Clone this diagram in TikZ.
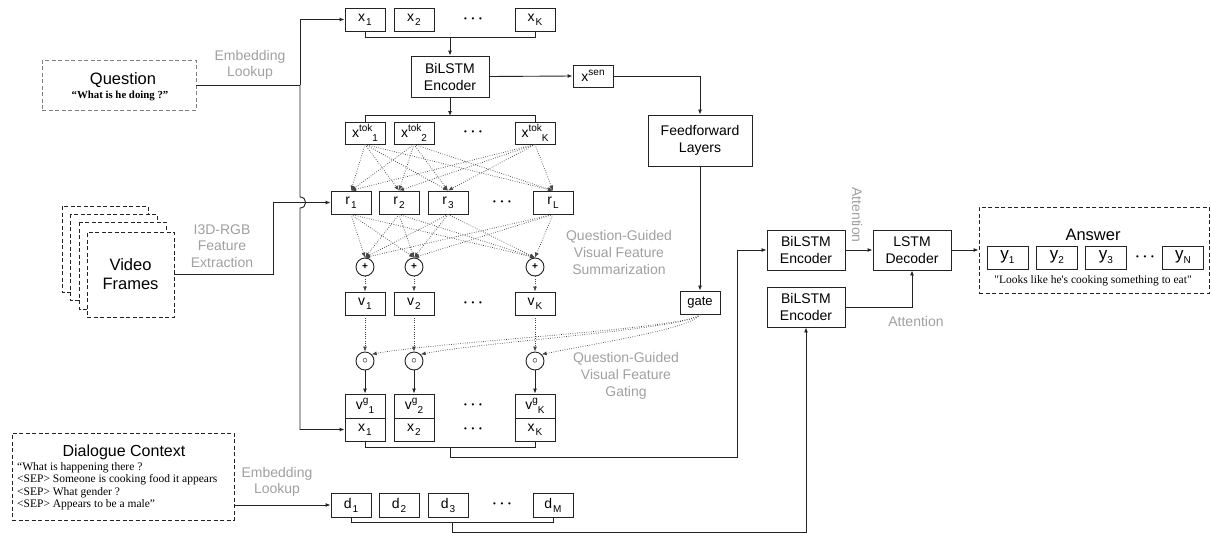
\documentclass[tikz,border=0pt]{standalone}
\usepackage{fontspec}
\setmainfont{Liberation Sans}
\newfontfamily\serifq{Liberation Serif}
\newfontfamily\serifplain[Ligatures=TeXOff]{Liberation Serif}
\usetikzlibrary{arrows.meta}
\definecolor{lbl}{RGB}{160,160,160}
\definecolor{ln}{RGB}{35,35,35}
\newcommand\fs[1]{\fontsize{#1}{#1}\selectfont}
\newcommand\lo[1]{\raisebox{-4pt}{\fs{10}#1}}
\newcommand\hi[1]{\raisebox{6pt}{\fs{10}#1}}
\newcommand\tdots{{\fs{8}•\hspace{4.6pt}•\hspace{4.6pt}•}}
\begin{document}
\begin{tikzpicture}[x=1pt,y=-1pt,
 box/.style={draw=ln, line width=0.9pt, minimum width=40pt, minimum height=23pt, inner sep=0pt, font=\fs{14}},
 bigbox/.style={box, minimum width=78pt, minimum height=40pt, align=center, font=\fontsize{14}{17}\selectfont},
 circ/.style={draw=ln, line width=0.9pt, circle, minimum size=18pt, inner sep=0pt},
 lab/.style={text=lbl, align=center, font=\fontsize{14}{16.5}\selectfont},
 conn/.style={draw=ln, line width=0.9pt},
 arr/.style={conn, -{Latex[length=5pt,width=4pt]}},
 dotarr/.style={arr, draw=ln!85, line width=0.75pt, dash pattern=on 0.7pt off 1.6pt},
 dashbox/.style={draw=ln, line width=0.9pt, dash pattern=on 4pt off 2.5pt},
 dotsn/.style={inner sep=0pt}
]
\useasboundingbox (0,0) rectangle (1211,533);

% ---------- Question ----------
\node[draw=gray, line width=0.9pt, dash pattern=on 4pt off 2.5pt, minimum width=154pt, minimum height=50pt, inner sep=0pt] (q) at (119,85) {};
\node[font=\fs{16.5}] (qt) at (123,80) {Question};
\node[font=\serifq\bfseries\fs{10.8}] (qs) at (120,96) {“What is he doing ?”};
\node[lab] (emb1) at (250,65) {Embedding\\Lookup};

% ---------- top x row ----------
\node[box] (x1) at (365,19.5) {x\hspace{1pt}\lo{1}};
\node[box] (x2) at (414,19.5) {x\hspace{1pt}\lo{2}};
\node[box] (xK) at (535,19.5) {x\hspace{1pt}\lo{K}};
\node[dotsn] (xd) at (473,20) {\tdots};

\node[bigbox, minimum height=41pt] (enc1) at (450,76.5) {BiLSTM\\Encoder};
\draw[conn] (x1.south) -- ++(0,6) -| (xK.south);
\coordinate (b1) at (450,37.5);
\draw[arr] (b1) -- (enc1.north);

% ---------- x tok row ----------
\node[box, minimum height=22pt] (xt1) at (365,133) {x\hi{tok}\lo{1}};
\node[box, minimum height=22pt] (xt2) at (414,133) {x\hi{tok}\lo{2}};
\node[box, minimum height=22pt] (xtK) at (535,133) {x\hi{tok}\lo{K}};
\node[dotsn] (xtd) at (473,133) {\tdots};
\coordinate (b2) at (450,116);
\draw[arr] (enc1.south) -- (b2);
\draw[conn] (xt1.north) -- ++(0,-6) -| (xtK.north);

% ---------- x sen / feedforward / gate ----------
\node[box, minimum height=22pt] (xsen) at (593,76) {x\hi{sen}};
\draw[arr] (enc1.east) -- (xsen.west);
\node[box, minimum width=104pt, minimum height=51pt, align=center, font=\fontsize{14}{17}\selectfont] (ff) at (700,140.5) {Feedforward\\Layers};
\draw[arr] (xsen.east) -| (ff.north);
\node[box, font=\fs{13}] (gate) at (700,302.5) {gate};
\draw[arr] (ff.south) -- (gate.north);

% ---------- r row ----------
\node[box] (r1) at (351,202.5) {r\hspace{1pt}\lo{1}};
\node[box] (r2) at (399,202.5) {r\hspace{1pt}\lo{2}};
\node[box] (r3) at (448,202.5) {r\hspace{1pt}\lo{3}};
\node[box] (rL) at (553,202.5) {r\hspace{1pt}\lo{L}};
\node[dotsn] (rd) at (502,202.5) {\tdots};

\foreach \s in {xt1,xt2,xtK}
  \foreach \t in {r1,r2,r3,rL}
    \draw[dotarr] (\s.south) -- (\t.north);

% ---------- plus circles & v row ----------
\node[circ] (p1) at (365,267) {\fs{10}\textbf{+}};
\node[circ] (p2) at (414,267) {\fs{10}\textbf{+}};
\node[circ] (pK) at (535,267) {\fs{10}\textbf{+}};
\foreach \s in {r1,r2,r3,rL}
  \foreach \t in {p1,p2,pK}
    \draw[dotarr] (\s.south) -- (\t.north);

\node[box] (v1) at (365,303.5) {v\hspace{1pt}\lo{1}};
\node[box] (v2) at (414,303.5) {v\hspace{1pt}\lo{2}};
\node[box] (vK) at (535,303.5) {v\hspace{1pt}\lo{K}};
\node[dotsn] (vd) at (473,303.5) {\tdots};
\draw[dotarr] (p1.south) -- (v1.north);
\draw[dotarr] (p2.south) -- (v2.north);
\draw[dotarr] (pK.south) -- (vK.north);

\node[lab, font=\fontsize{14}{17}\selectfont] (lsum) at (619,252) {Question-Guided\\Visual Feature\\Summarization};

% ---------- gating circles ----------
\node[circ] (o1) at (365,361) {\fs{11}$\circ$};
\node[circ] (o2) at (414,361) {\fs{11}$\circ$};
\node[circ] (oK) at (535,361) {\fs{11}$\circ$};
\draw[dotarr] (v1.south) -- (o1.north);
\draw[dotarr] (v2.south) -- (o2.north);
\draw[dotarr] (vK.south) -- (oK.north);
\foreach \t in {o1,o2,oK}
  \draw[dotarr] (gate.south) .. controls +(-8,14) and +(60,-12) .. (\t.north east);

\node[lab, font=\fontsize{14}{17}\selectfont] (lgate) at (626,376) {Question-Guided\\Visual Feature\\Gating};

% ---------- v^g / x rows ----------
\node[box, minimum height=24pt] (vg1) at (365,406) {v\hi{g}\lo{1}};
\node[box, minimum height=24pt] (vg2) at (414,406) {v\hi{g}\lo{2}};
\node[box, minimum height=24pt] (vgK) at (535,406) {v\hi{g}\lo{K}};
\node[dotsn] (vgd) at (473,406) {\tdots};
\node[box] (xb1) at (365,429.5) {x\hspace{1pt}\lo{1}};
\node[box] (xb2) at (414,429.5) {x\hspace{1pt}\lo{2}};
\node[box] (xbK) at (535,429.5) {x\hspace{1pt}\lo{K}};
\node[dotsn] (xbd) at (473,429.5) {\tdots};
\foreach \n in {vg1,vg2,vgK}
  \draw[draw=ln, line width=1.8pt] (\n.south west) -- (\n.south east);
\draw[arr] (o1.south) -- (vg1.north);
\draw[arr] (o2.south) -- (vg2.north);
\draw[arr] (oK.south) -- (vgK.north);

% ---------- question / video connectors ----------
\coordinate (j1) at (300,85);
\coordinate (hopA) at (300,197);
\coordinate (hopB) at (300,208);
\draw[conn] (q.east) -- (j1);
\draw[arr] (j1) |- (x1.west);
\draw[arr] (j1) -- (hopA) .. controls +(7.5,0) and +(7.5,0) .. (hopB) |- (xb1.west);

% video frames
\draw[dashbox, fill=white] (62,206) rectangle (148,292);
\draw[dashbox, fill=white] (70,214) rectangle (157,300);
\draw[dashbox, fill=white] (79,222) rectangle (166,309);
\node[dashbox, fill=white, minimum width=87pt, minimum height=85pt, inner sep=0pt, align=center, font=\fontsize{16.5}{19}\selectfont] (vf) at (130.5,274.5) {Video\\Frames};
\coordinate (vj) at (273,202.5);
\draw[arr] (vf.east) -| (vj) -- (r1.west);
\node[lab] (li3d) at (222,246) {I3D-RGB\\Feature\\Extraction};

% ---------- dialogue ----------
\node[dashbox, minimum width=222pt, minimum height=87pt, inner sep=0pt] (dc) at (123,476.5) {};
\node[font=\fs{16}] (dct) at (124,452) {Dialogue Context};
\node[anchor=north west, align=left, inner sep=0pt, font=\serifq\fontsize{11.5}{12.6}\selectfont] (dcs) at (17,462) {“What is happening there ?\\<SEP> Someone is cooking food it appears\\<SEP> What gender ?\\<SEP> Appears to be a male”};

\node[box, minimum height=24pt] (d1) at (351,505) {d\hspace{1pt}\lo{1}};
\node[box, minimum height=24pt] (d2) at (399,505) {d\hspace{1pt}\lo{2}};
\node[box, minimum height=24pt] (d3) at (448,505) {d\hspace{1pt}\lo{3}};
\node[box, minimum height=24pt] (dM) at (553,505) {d\hspace{1pt}\lo{M}};
\node[dotsn] (dd) at (502,505) {\tdots};
\draw[arr] (dc.east |- d1.west) -- (d1.west);
\node[lab] (emb2) at (277,482) {Embedding\\Lookup};
\draw[conn] (d1.south) -- ++(0,5) -| (dM.south);

% ---------- right side ----------
\node[bigbox] (encA) at (806,250) {BiLSTM\\Encoder};
\node[bigbox] (encB) at (806,307) {BiLSTM\\Encoder};
\node[bigbox] (dec) at (912,250) {LSTM\\Decoder};

\draw[conn] (xb1.south) -- ++(0,6) -| (xbK.south);
\coordinate (b3) at (450,447);
\coordinate (c3) at (737,457);
\draw[arr] (b3) |- (c3) |- (encA.west);

\coordinate (b4) at (452,522);
\coordinate (c4) at (806,532.6);
\draw[arr] (b4) |- (c4) -- (encB.south);

\draw[arr] (encA.east) -- (dec.west);
\draw[arr] (encB.east) -| (dec.south);
\node[lab, rotate=-90] (att1) at (857,215) {Attention};
\node[lab] (att2) at (916,321) {Attention};

% ---------- answer ----------
\node[dashbox, minimum width=230pt, minimum height=86pt, inner sep=0pt] (ans) at (1094,250) {};
\draw[arr] (dec.east) -- (ans.west |- dec.east);
\node[font=\fs{16.5}] (anst) at (1093,235) {Answer};
\node[box, minimum width=41pt, font=\fs{17}] (y1) at (1007.5,257.5) {y\lo{1}};
\node[box, minimum width=41pt, font=\fs{17}] (y2) at (1057,257.5) {y\lo{2}};
\node[box, minimum width=41pt, font=\fs{17}] (y3) at (1106,257.5) {y\lo{3}};
\node[box, minimum width=41pt, font=\fs{17}] (yN) at (1183,257.5) {y\lo{N}};
\node[dotsn] (yd) at (1145,258) {\tdots};
\node[font=\serifplain\fs{11.5}] (anss) at (1093,281) {"Looks like he's cooking something to eat"};
\end{tikzpicture}
\end{document}
